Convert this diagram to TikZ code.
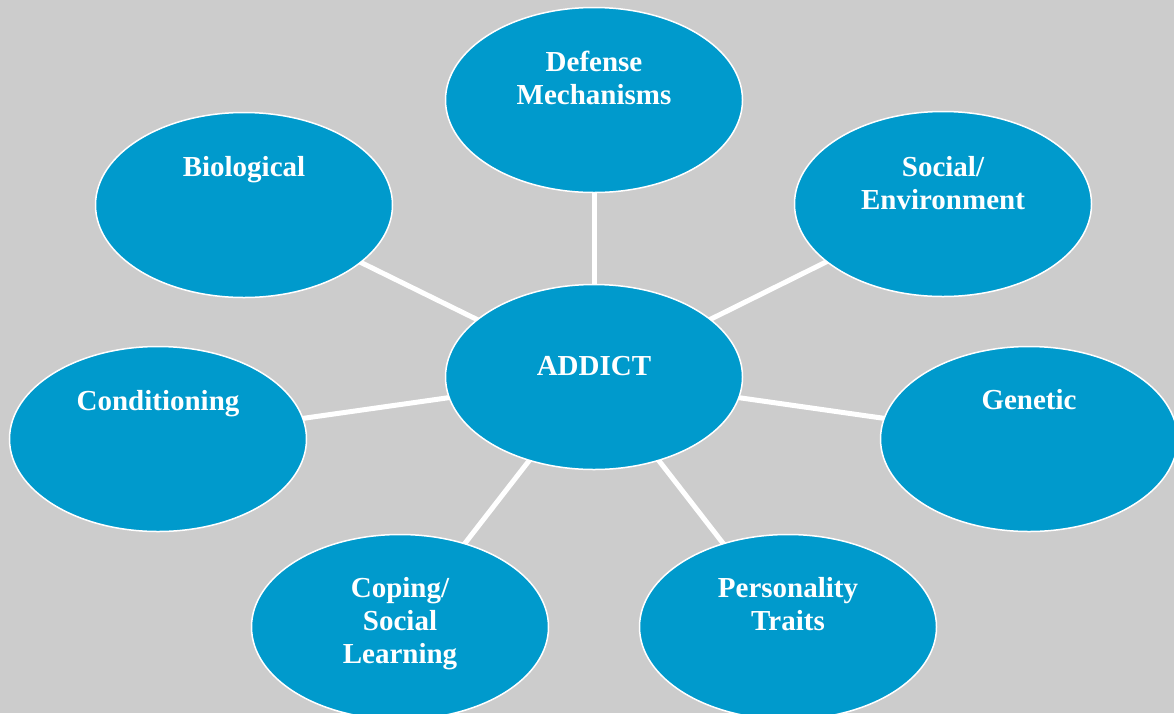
\documentclass[tikz,border=0pt]{standalone}
\usepackage{fontspec}
\setmainfont{Liberation Serif}
\definecolor{bgray}{RGB}{204,204,204}
\definecolor{nodeblue}{RGB}{0,154,204}
\pgfdeclarelayer{back}
\pgfdeclarelayer{lines}
\pgfsetlayers{back,lines,main}
\tikzset{
  bubble/.style={ellipse, draw=white, line width=1.5pt, fill=nodeblue,
    minimum width=297pt, minimum height=185pt, inner sep=0pt},
  txt/.style={text=white, font=\bfseries\fontsize{29}{33}\selectfont,
    align=center, anchor=base, inner sep=0pt},
  conn/.style={draw=white, line width=5pt}
}
\usetikzlibrary{shapes.geometric}
\begin{document}
\begin{tikzpicture}[x=1pt,y=-1pt]
\begin{pgfonlayer}{back}
  \fill[bgray] (0,0) rectangle (1174,713);
\end{pgfonlayer}
\useasboundingbox (0,0) rectangle (1174,713);
\clip (0,0) rectangle (1174,713);

\node[bubble] (def)  at (594,100) {};
\node[bubble] (bio)  at (244,205) {};
\node[bubble] (soc)  at (943,204) {};
\node[bubble] (add)  at (594,377) {};
\node[bubble] (cond) at (158,439) {};
\node[bubble] (gen)  at (1029,439) {};
\node[bubble] (cope) at (400,627) {};
\node[bubble] (pers) at (788,627) {};

% base anchor of a multi-line node is the baseline of its last line
\node[txt] (tdef)  at ([yshift=-4pt]def.center)   {Defense\\Mechanisms};
\node[txt] (tbio)  at ([yshift=29pt]bio.center)   {Biological};
\node[txt] (tsoc)  at ([yshift=-5pt]soc.center)   {Social/\\Environment};
\node[txt] (tadd)  at ([yshift=2pt]add.center)    {ADDICT};
\node[txt] (tcond) at ([yshift=29pt]cond.center)  {Conditioning};
\node[txt] (tgen)  at ([yshift=30pt]gen.center)   {Genetic};
\node[txt] (tcope) at ([yshift=-36pt]cope.center) {Coping/\\Social\\Learning};
\node[txt] (tpers) at ([yshift=-3pt]pers.center)  {Personality\\Traits};

\begin{pgfonlayer}{lines}
  \foreach \n in {def,bio,soc,cond,gen,cope,pers}
    \draw[conn] (add.center) -- (\n.center);
\end{pgfonlayer}
\end{tikzpicture}
\end{document}
